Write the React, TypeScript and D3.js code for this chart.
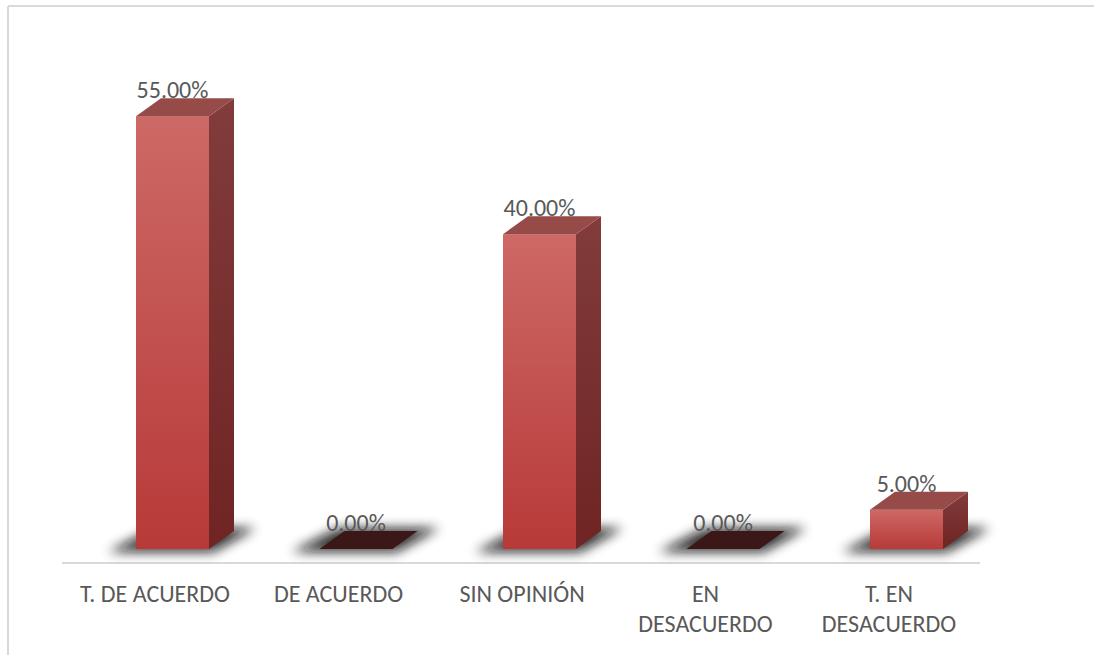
import React from 'react';
import * as d3 from 'd3';

const categories = ['T. DE ACUERDO', 'DE ACUERDO', 'SIN OPINIÓN', 'EN DESACUERDO', 'T. EN DESACUERDO'];
const categoryLines = [['T. DE ACUERDO'], ['DE ACUERDO'], ['SIN OPINIÓN'], ['EN', 'DESACUERDO'], ['T. EN', 'DESACUERDO']];
const values = [55, 0, 40, 0, 5];
const valueLabels = ['55.00%', '0.00%', '40.00%', '0.00%', '5.00%'];

const W = 1094;
const H = 655;
const DX = 25;
const DY = -18;
const BAR_W = 73;
const FRONT_SHIFT = 17.5;

export default function App() {
  const x = d3.scaleBand<string>().domain(categories).range([63.25, 980.75]).padding(0);
  const y = d3.scaleLinear().domain([0, 60]).range([549, 76.8]);
  const font = "Carlito, 'Open Sans', 'Liberation Sans', sans-serif";

  return (
    <div style={{ position: 'fixed', left: 0, top: 0, width: W, height: H, overflow: 'hidden', background: '#fff' }}>
      <svg width={W} height={H} style={{ display: 'block' }}>
        <defs>
          <linearGradient id="front" x1="0" y1="0" x2="0" y2="1">
            <stop offset="0%" stopColor="#cd6966" />
            <stop offset="100%" stopColor="#b73a38" />
          </linearGradient>
          <linearGradient id="side" x1="0" y1="0" x2="0" y2="1">
            <stop offset="0%" stopColor="#813c3b" />
            <stop offset="100%" stopColor="#702424" />
          </linearGradient>
          <filter id="blur" x="-50%" y="-100%" width="200%" height="300%">
            <feGaussianBlur stdDeviation="6" />
          </filter>
        </defs>

        {/* frame (top and left edges only visible) */}
        <line x1={8} x2={W + 10} y1={6} y2={6} stroke="#d9d9d9" strokeWidth={2} />
        <line x1={8} x2={8} y1={6} y2={H + 10} stroke="#d9d9d9" strokeWidth={2} />

        {/* floor line */}
        <line x1={62} x2={980} y1={563} y2={563} stroke="#d9d9d9" strokeWidth={2} />

        {categories.map((c, i) => {
          const cx = (x(c) as number) + x.bandwidth() / 2;
          const x0 = cx + FRONT_SHIFT - BAR_W / 2;
          const x1 = x0 + BAR_W;
          const yb = y(0);
          const yt = y(values[i]);
          const zero = values[i] === 0;
          const shadow = `${x0 - 28},${yb + 3} ${x1 + 4},${yb + 3} ${x1 + DX + 22},${yb + DY - 3} ${x0 + DX - 6},${yb + DY - 3}`;
          return (
            <g key={c}>
              <polygon points={shadow} fill="#111" opacity={0.85} filter="url(#blur)" />
              {zero ? (
                <polygon points={`${x0},${yb} ${x1},${yb} ${x1 + DX},${yb + DY} ${x0 + DX},${yb + DY}`} fill="#3b1717" />
              ) : (
                <>
                  <rect x={x0} y={yt} width={BAR_W} height={yb - yt} fill="url(#front)" />
                  <polygon points={`${x1},${yt} ${x1 + DX},${yt + DY} ${x1 + DX},${yb + DY} ${x1},${yb}`} fill="url(#side)" />
                  <polygon points={`${x0},${yt} ${x1},${yt} ${x1 + DX},${yt + DY} ${x0 + DX},${yt + DY}`} fill="#964b49" />
                </>
              )}
              <text x={x0 + BAR_W / 2} y={yt - 18} textAnchor="middle" fontSize={24} fill="#595959" fontFamily={font}>
                {valueLabels[i]}
              </text>
              <text textAnchor="middle" fontSize={24} fill="#595959" fontFamily={font}>
                {categoryLines[i].map((l, k) => (
                  <tspan key={k} x={cx} y={602 + k * 30}>{l}</tspan>
                ))}
              </text>
            </g>
          );
        })}
      </svg>
    </div>
  );
}
